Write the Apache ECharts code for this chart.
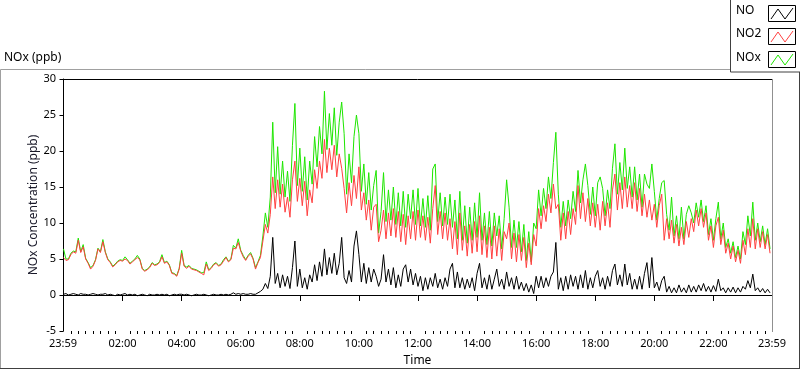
<!DOCTYPE html>
<html>
<head>
<meta charset="utf-8">
<script src="https://cdn.jsdelivr.net/npm/echarts@6/dist/echarts.min.js"></script>
<style>
html,body{margin:0;padding:0;background:#fff;}
#c{width:800px;height:369px;}
</style>
</head>
<body>
<div id="c"></div>
<script>
// Sampling of the series: minutes after midnight, one value every 5 minutes
const TIME_START = 0;
const TIME_STEP = 5;

// NO (ppb)
const NO = [
0.1,0.2,0.0,0.1,0.2,0.1,0.0,0.2,0.1,0.1,0.0,0.1,0.2,0.1,0.0,0.1,0.1,0.2,0.0,0.1,0.0,-0.1,0.1,0.0,0.1,0.2,0.0,0.1,0.0,0.1,-0.1,0.0,0.1,0.0,-0.1,0.1,0.0,0.0,0.1,0.0,0.1,0.0,0.1,-0.1,0.0,0.1,0.0,0.1,0.1,
0.0,0.1,0.0,-0.1,0.0,0.1,0.0,0.0,0.1,0.0,-0.1,0.0,0.1,0.0,0.0,0.1,0.0,0.1,0.0,0.1,0.3,0.1,0.2,0.1,0.2,0.1,0.1,0.2,
0.1,0.1,0.3,0.5,0.8,1.6,0.9,2.6,8.0,1.6,
3.0,1.0,2.8,1.2,2.6,0.9,3.8,7.5,1.2,3.6,
1.0,2.4,0.8,2.8,1.8,4.2,2.0,4.6,2.6,6.4,
2.8,5.2,3.0,5.8,2.8,4.4,8.0,2.4,1.6,3.4,
1.8,6.8,8.9,5.6,1.8,4.4,1.6,3.8,1.8,3.6,
2.6,1.2,2.2,
5.6,1.8,3.6,1.4,3.8,1.0,2.8,1.2,3.6,4.2,
1.8,3.6,1.4,3.0,1.2,2.6,0.6,2.4,0.8,2.4,
1.2,3.0,1.0,2.2,0.8,2.4,1.2,3.6,4.4,1.0,
3.2,1.0,2.4,0.8,2.2,1.0,2.4,0.6,3.0,4.4,
1.0,2.4,0.8,2.8,0.8,2.2,3.6,1.2,2.2,
0.8,3.2,1.2,2.4,0.8,2.6,0.8,1.8,0.6,1.6,
0.4,1.4,0.2,2.6,1.0,2.6,1.0,2.4,1.2,2.6,
3.2,7.3,0.8,2.4,0.6,2.6,0.8,2.8,1.2,2.6,
0.8,2.8,1.0,3.4,0.8,2.4,1.0,2.6,3.4,1.2,
2.4,0.8,2.6,1.2,3.4,4.3,1.4,2.8,1.2,4.3,
1.4,3.0,
0.8,2.2,0.8,2.6,0.8,3.0,4.5,1.0,5.2,1.0,
1.8,0.6,2.0,2.6,0.4,1.2,0.3,1.0,0.3,1.4,
0.4,1.0,0.3,1.4,0.4,1.2,0.4,1.4,0.6,1.6,
0.5,1.2,0.4,1.3,0.5,2.2,0.6,1.0,0.3,1.0,
0.4,1.1,0.3,1.0,0.4,1.2,0.8,2.0,1.0,2.9,
0.6,1.0,0.4,0.9,0.3,0.8,0.3
];

// NO2 (ppb)
const NO2 = [
5.2,4.8,4.9,5.6,6.0,5.8,7.6,5.9,6.7,5.0,4.4,3.6,4.0,4.8,6.4,5.9,7.4,5.9,4.9,4.5,3.9,4.2,4.6,4.8,4.7,5.0,4.8,4.3,4.6,4.9,5.2,4.9,3.6,3.3,3.5,3.8,4.4,4.1,4.2,4.5,5.3,4.4,4.6,4.1,3.0,2.9,2.6,3.6,5.8,
4.0,3.7,4.0,3.6,3.5,3.4,3.2,3.0,2.8,4.3,3.4,3.7,4.2,4.4,4.0,4.2,4.7,5.2,4.6,4.9,6.5,6.4,7.3,6.1,5.3,4.8,5.4,5.7,
5.0,3.6,4.5,5.2,7.5,9.8,8.6,11.2,16.4,12.0,
16.0,12.2,15.4,11.5,13.6,10.8,16.0,18.6,13.0,16.2,
12.4,15.8,11.0,14.6,12.8,17.4,14.8,18.6,16.2,21.6,
17.0,20.4,17.4,20.8,16.4,19.6,17.6,14.8,11.4,15.6,
12.4,16.6,13.4,17.8,11.8,14.2,10.4,13.2,9.0,12.2,
12.6,7.4,9.0,
11.8,7.8,11.4,8.2,12.0,8.0,11.6,7.4,11.2,7.0,
11.0,7.8,11.6,7.6,11.8,8.0,11.0,7.6,10.8,7.2,
12.0,15.2,8.4,11.6,7.8,11.4,7.6,10.6,6.4,10.2,
5.6,11.4,6.2,9.6,5.4,9.8,5.8,10.2,6.0,11.0,
5.6,9.6,5.2,9.4,5.0,9.6,5.4,9.2,4.8,
8.8,7.8,10.0,5.0,8.6,4.6,8.4,4.8,8.0,3.8,
7.2,4.2,8.4,6.8,12.0,9.2,12.4,10.2,14.0,11.4,
15.4,12.0,12.6,7.6,11.4,7.8,11.6,8.4,12.0,9.8,
15.2,10.6,14.2,10.2,13.4,9.6,12.8,9.4,12.6,9.0,
13.0,9.6,12.8,9.4,14.6,16.8,11.8,15.6,12.0,16.4,
12.2,15.2,
12.0,15.6,11.6,14.8,11.0,14.0,10.8,13.2,10.4,12.6,
9.4,12.4,14.0,7.6,10.6,7.8,10.4,7.2,9.8,6.8,
9.4,7.0,10.2,8.0,10.6,8.8,11.8,9.6,12.0,9.4,
11.4,7.6,9.6,6.6,9.6,10.8,7.0,9.0,5.8,7.2,
5.0,6.8,4.6,6.2,4.4,7.6,5.6,9.2,6.6,10.6,
6.4,9.2,6.6,8.8,6.4,8.4,5.8
];

// NOx (ppb)
const NOX = [
6.4,5.0,5.0,5.8,6.1,6.0,7.9,6.0,7.0,5.1,4.5,3.8,4.1,4.9,6.5,6.0,7.7,6.0,5.0,4.6,4.0,4.3,4.7,4.9,4.8,5.3,4.9,4.4,4.7,5.0,5.5,5.0,3.7,3.4,3.6,3.9,4.5,4.2,4.3,4.6,5.6,4.5,4.7,4.2,3.1,3.0,2.7,3.7,6.2,
4.1,3.9,4.1,3.7,3.6,3.5,3.3,3.1,3.1,4.6,3.5,3.8,4.3,4.5,4.1,4.3,4.9,5.3,4.7,5.0,6.9,6.5,7.8,6.2,5.5,4.9,5.5,5.9,
5.1,3.8,4.6,5.5,8.2,11.4,9.4,13.6,24.0,14.2,
20.6,14.0,18.6,13.6,17.2,13.0,20.8,26.6,15.2,20.4,
14.4,19.2,13.2,18.6,15.4,22.0,17.8,23.4,19.6,28.3,
20.2,25.2,20.8,26.0,19.4,24.0,26.8,22.4,14.0,19.6,
15.6,22.0,25.0,22.4,14.4,18.2,12.6,17.0,11.8,15.2,
17.3,8.6,11.6,
17.0,10.2,14.6,10.4,15.0,9.8,14.2,9.6,14.4,9.4,
14.0,10.6,14.6,9.8,14.8,9.6,13.4,9.4,13.8,9.0,
17.5,18.2,10.2,14.2,9.6,13.6,9.8,14.0,9.4,13.2,
7.8,14.4,7.6,12.4,7.2,12.2,7.6,12.8,8.0,14.2,
7.6,11.4,7.0,11.6,6.8,11.4,8.2,11.0,6.4,
10.6,16.0,12.2,6.6,10.4,6.6,10.2,6.0,9.8,4.8,
8.8,4.6,10.0,9.2,14.6,11.0,14.8,12.0,16.4,13.4,
18.4,22.6,14.0,9.4,13.0,9.6,13.2,10.6,14.4,11.6,
17.3,12.8,16.0,18.2,15.2,11.2,15.0,11.0,15.6,16.4,
14.8,11.0,14.6,12.0,17.6,21.0,14.0,18.4,14.6,20.4,
14.8,17.8,
13.6,17.8,13.2,16.8,12.2,16.8,15.4,14.8,18.2,14.4,
10.4,13.4,15.6,15.9,11.2,9.0,13.6,8.2,11.0,7.8,
12.2,7.8,11.2,12.4,11.4,10.0,12.8,10.8,13.2,10.2,
12.4,8.4,10.6,7.6,10.6,12.9,7.8,10.0,6.6,7.8,
5.8,7.4,5.2,6.8,5.0,8.8,7.0,11.0,8.2,12.9,
7.6,10.0,7.4,9.6,7.0,9.2,6.4
];

// Axis ticks (minutes after midnight; 23:59 of previous day = -1)
const X_MIN = -1, X_MAX = 1439;
const X_LABEL_TICKS = [-1,120,240,360,480,600,720,840,960,1080,1200,1320,1439];
const Y_MIN = -5, Y_MAX = 30, Y_STEP = 5;

const SERIES_NAMES = ['NO','NO2','NOx'];
const COLORS = {NO:'#000000', NO2:'#ff4040', NOx:'#1ee600'};

function pairs(arr){ return arr.map((v,i)=>[TIME_START + i*TIME_STEP, v]); }
function fmt(v){
  if (v < 0 || v >= 1439) return '23:59';
  const h = Math.floor(v/60), m = v%60;
  return String(h).padStart(2,'0') + ':' + String(m).padStart(2,'0');
}
const minorTicks = [];
for (let m = 15; m < 1439; m += 15) if (m % 120 !== 0) minorTicks.push(m);

const FONT = '"Noto Sans", sans-serif';
const GL = 63, GT = 79, GR = 772, GB = 331;

const chart = echarts.init(document.getElementById('c'), null, {renderer:'canvas'});

function zig(x, y, color){
  return {type:'polyline', shape:{points:[[x+3,y+13],[x+10,y+3],[x+17,y+13],[x+25,y+2]]}, style:{stroke:color, lineWidth:1, fill:null}, z:100};
}

chart.setOption({
  animation:false,
  backgroundColor:'#fff',
  grid:{left:GL, top:GT, right:800-GR, bottom:369-GB, show:false, containLabel:false, outerBoundsMode:'none'},
  xAxis:[{
    type:'value', min:X_MIN, max:X_MAX, position:'bottom',
    name:'Time', nameLocation:'middle', nameGap:24, nameMoveOverlap:false,
    nameTextStyle:{color:'#000', fontFamily:FONT, fontSize:12},
    axisLine:{show:true, lineStyle:{color:'#000', width:1}},
    axisTick:{show:true, customValues:X_LABEL_TICKS, length:6, lineStyle:{color:'#000'}},
    axisLabel:{show:true, customValues:X_LABEL_TICKS, formatter:fmt, color:'#000', fontFamily:FONT, fontSize:11, margin:7, showMinLabel:true, showMaxLabel:true, hideOverlap:false},
    splitLine:{show:false}
  },{
    type:'value', min:X_MIN, max:X_MAX, position:'bottom',
    axisLine:{show:false},
    axisTick:{show:true, customValues:minorTicks, length:3, lineStyle:{color:'#000'}},
    axisLabel:{show:false}, splitLine:{show:false}
  }],
  yAxis:{
    type:'value', min:Y_MIN, max:Y_MAX, interval:Y_STEP,
    name:'NOx Concentration (ppb)', nameLocation:'middle', nameRotate:90, nameGap:23, nameMoveOverlap:false,
    nameTextStyle:{color:'#1a1a2a', fontFamily:FONT, fontSize:12},
    axisLine:{show:true, lineStyle:{color:'#000', width:1}},
    axisTick:{show:true, length:4, lineStyle:{color:'#000'}},
    axisLabel:{color:'#000', fontFamily:FONT, fontSize:11, margin:7},
    splitLine:{show:false}
  },
  series:[
    {name:'NOx', type:'line', data:pairs(NOX), showSymbol:false, symbol:'none', lineStyle:{color:COLORS.NOx, width:1}, itemStyle:{color:COLORS.NOx}, z:2},
    {name:'NO2', type:'line', data:pairs(NO2), showSymbol:false, symbol:'none', lineStyle:{color:COLORS.NO2, width:1}, itemStyle:{color:COLORS.NO2}, z:3},
    {name:'NO', type:'line', data:pairs(NO), showSymbol:false, symbol:'none', lineStyle:{color:COLORS.NO, width:1}, itemStyle:{color:COLORS.NO}, z:4}
  ],
  graphic:[
    {type:'line', shape:{x1:0.5,y1:69.5,x2:730,y2:69.5}, style:{stroke:'#a0a0a0', lineWidth:1}},
    {type:'line', shape:{x1:0.5,y1:69.5,x2:0.5,y2:368}, style:{stroke:'#a0a0a0', lineWidth:1}},
    {type:'line', shape:{x1:0,y1:368.5,x2:800,y2:368.5}, style:{stroke:'#404040', lineWidth:1}},
    {type:'line', shape:{x1:799.5,y1:72,x2:799.5,y2:369}, style:{stroke:'#404040', lineWidth:1}},
    {type:'line', shape:{x1:GL,y1:GT+0.5,x2:GR,y2:GT+0.5}, style:{stroke:'#000', lineWidth:1}, z:50},
    {type:'line', shape:{x1:GR+0.5,y1:GT,x2:GR+0.5,y2:GB+1}, style:{stroke:'#909090', lineWidth:1}, z:50},
    {type:'text', left:4, top:52, style:{text:'NOx (ppb)', fill:'#000', font:'12px '+FONT}},
    {type:'rect', shape:{x:730.5,y:-1,width:80,height:73}, style:{fill:'#fff', stroke:'#404040', lineWidth:1}, z:90},
    {type:'text', left:736, top:5, style:{text:SERIES_NAMES[0], fill:'#000', font:'12px '+FONT}, z:100},
    {type:'text', left:736, top:28, style:{text:SERIES_NAMES[1], fill:'#000', font:'12px '+FONT}, z:100},
    {type:'text', left:736, top:52, style:{text:SERIES_NAMES[2], fill:'#000', font:'12px '+FONT}, z:100},
    {type:'rect', shape:{x:768.5,y:5.5,width:27,height:16}, style:{fill:'#fff', stroke:'#000', lineWidth:1}, z:95},
    {type:'rect', shape:{x:768.5,y:28.5,width:27,height:16}, style:{fill:'#fff', stroke:'#000', lineWidth:1}, z:95},
    {type:'rect', shape:{x:768.5,y:51.5,width:27,height:16}, style:{fill:'#fff', stroke:'#000', lineWidth:1}, z:95},
    zig(768,6,COLORS.NO), zig(768,29,COLORS.NO2), zig(768,52,COLORS.NOx)
  ]
});
</script>
</body>
</html>
